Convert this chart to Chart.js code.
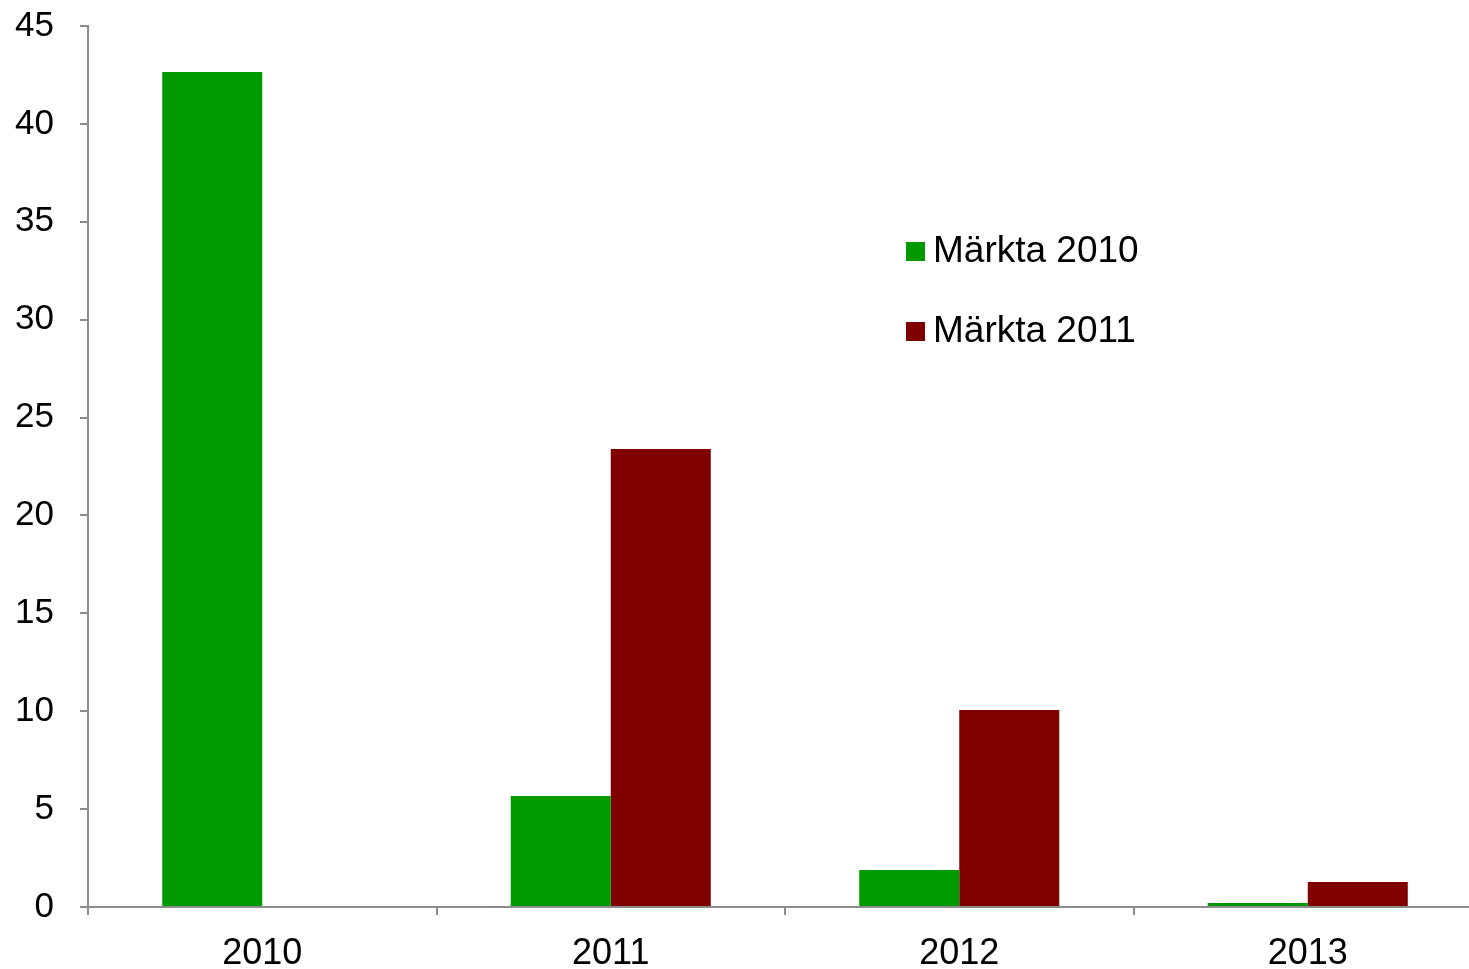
<!DOCTYPE html>
<html lang="sv">
<head>
  <meta charset="UTF-8">
  <title>Märkta 2010 / 2011</title>
  <script src="https://cdn.jsdelivr.net/npm/chart.js"></script>
  <style>
    html, body {
      margin: 0;
      padding: 0;
      background: #ffffff;
      overflow: hidden;
    }
    #wrap {
      width: 1482px;
      height: 969px;
    }
  </style>
</head>
<body>

<div id="wrap">
  <canvas id="chart" width="1482" height="969"></canvas>
</div>

<script>
const years = ['2010', '2011', '2012', '2013'];
const seriesNames = ['Märkta 2010', 'Märkta 2011'];
const marked2010 = [42.65, 5.67, 1.89, 0.2];
const marked2011 = [null, 23.39, 10.06, 1.28];
const yTicks = [0, 5, 10, 15, 20, 25, 30, 35, 40, 45];

const GREEN = '#009900';
const RED = '#800000';
const AXIS = '#8c8c8c';
const FONT = "'Liberation Sans', Arial, sans-serif";

// legend drawn inside the plot area, like the original
const insideLegend = {
  id: 'insideLegend',
  afterDraw(chart) {
    const ctx = chart.ctx;
    ctx.save();
    ctx.font = '37px ' + FONT;
    ctx.textBaseline = 'middle';
    chart.data.datasets.forEach((ds, i) => {
      const y = 251 + i * 80;
      ctx.fillStyle = ds.backgroundColor;
      ctx.fillRect(906, y - 9, 19, 19);
      ctx.fillStyle = '#000';
      ctx.fillText(ds.label, 933, y + 1);
    });
    ctx.restore();
  }
};

new Chart(document.getElementById('chart'), {
  type: 'bar',
  data: {
    labels: years,
    datasets: [
      { label: seriesNames[0], data: marked2010, backgroundColor: GREEN },
      { label: seriesNames[1], data: marked2011, backgroundColor: RED }
    ]
  },
  options: {
    responsive: false,
    animation: false,
    layout: { padding: 0 },
    plugins: {
      legend: { display: false },
      tooltip: { enabled: false }
    },
    datasets: {
      bar: { categoryPercentage: 0.574, barPercentage: 1.0 }
    },
    scales: {
      x: {
        grid: { drawOnChartArea: false, drawTicks: true, tickLength: 8, color: AXIS, lineWidth: 2 },
        border: { color: AXIS, width: 2 },
        ticks: { color: '#000', font: { family: FONT, size: 36 }, padding: 17 },
        afterFit(scale) { scale.height = 62; }
      },
      y: {
        min: 0,
        max: 45,
        afterBuildTicks(scale) { scale.ticks = yTicks.map(v => ({ value: v })); },
        grid: { drawOnChartArea: false, drawTicks: true, tickLength: 8, color: AXIS, lineWidth: 2 },
        border: { color: AXIS, width: 2 },
        ticks: { color: '#000', font: { family: FONT, size: 35 }, padding: 26 },
        afterFit(scale) {
          scale.width = 88;
          scale.paddingTop = 26;
          scale.paddingBottom = 0;
        }
      }
    }
  },
  plugins: [insideLegend]
});
</script>

</body>
</html>
